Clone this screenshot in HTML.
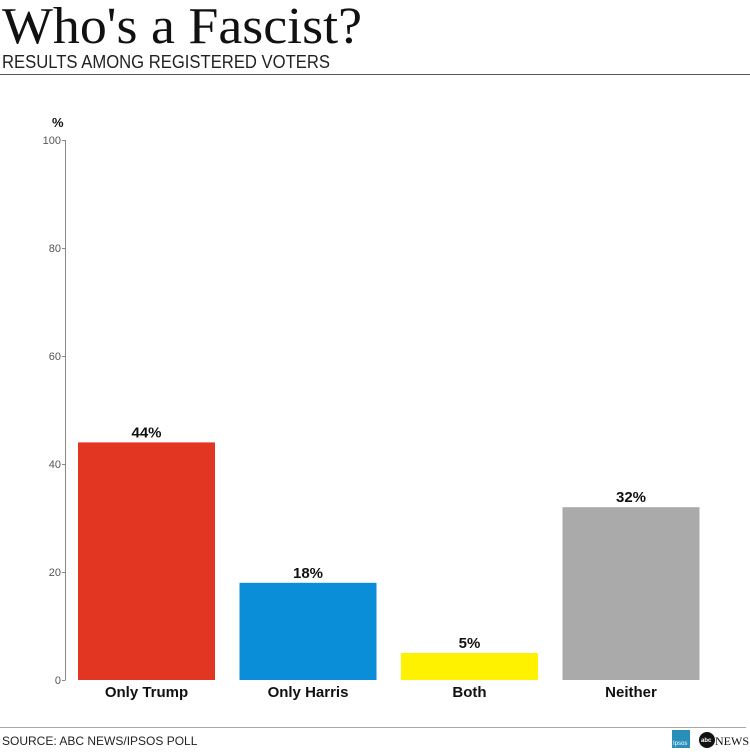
<!DOCTYPE html>
<html><head><meta charset="utf-8"><style>
body{margin:0;background:#fff;width:750px;height:750px;overflow:hidden}
text{font-family:"Liberation Sans",sans-serif}
</style></head><body>
<svg width="750" height="750" viewBox="0 0 750 750">
<text x="2" y="43" font-family="Liberation Serif" style="font-family:'Liberation Serif',serif" font-size="52" textLength="360" lengthAdjust="spacingAndGlyphs" fill="#111">Who's a Fascist?</text>
<text x="2" y="68" font-size="18" textLength="328" lengthAdjust="spacingAndGlyphs" fill="#222">RESULTS AMONG REGISTERED VOTERS</text>
<line x1="0" y1="74.5" x2="750" y2="74.5" stroke="#555" stroke-width="1"/>
<text x="52" y="127" font-size="13" font-weight="bold" fill="#111">%</text>
<g id="axis"></g>
<g id="bars"></g>
<line x1="0" y1="727.5" x2="746" y2="727.5" stroke="#aaa" stroke-width="1"/>
<text x="2" y="745" font-size="12" fill="#222">SOURCE: ABC NEWS/IPSOS POLL</text>
<g><rect x="672" y="730" width="18" height="18" fill="#2a8fb8"/><text x="673" y="745" font-size="6" fill="#fff">Ipsos</text></g>
<g><circle cx="707" cy="740" r="8" fill="#111"/><text x="701" y="742" font-size="6" font-weight="bold" fill="#fff">abc</text><text x="715" y="745" font-size="12" style="font-family:'Liberation Serif',serif" fill="#111">NEWS</text></g>
</svg>
<script>
const categories=["Only Trump","Only Harris","Both","Neither"];
const values=[44,18,5,32];
const colors=["#e23522","#0b8ed8","#fff200","#aaaaaa"];
const ticks=[0,20,40,60,80,100];
const NS="http://www.w3.org/2000/svg";
const y=v=>680-v*5.4;
const bx=i=>78+i*161.5;
const bw=137;
function mk(t,a,p){const e=document.createElementNS(NS,t);for(const k in a)e.setAttribute(k,a[k]);p.appendChild(e);return e;}
const ax=document.getElementById('axis'),bars=document.getElementById('bars');
const al=mk('line',{x1:65.5,x2:65.5,y1:y(100),y2:y(0),stroke:'#888','stroke-width':1},ax);


ticks.forEach(t=>{
 const tl=mk('line',{x1:62,x2:65.5,y1:y(t)+0.5,y2:y(t)+0.5,stroke:'#888'},ax);
 
 
 const tx=mk('text',{x:61,y:y(t)+4,'font-size':11,'text-anchor':'end',fill:'#555'},ax);
 tx.textContent=t;
 
 
});
categories.forEach((c,i)=>{
 const r=mk('rect',{x:bx(i),y:y(values[i]),width:bw,height:y(0)-y(values[i]),fill:colors[i]},bars);
 
 
 const v=mk('text',{x:bx(i)+bw/2,y:y(values[i])-5,'font-size':15,'font-weight':'bold','text-anchor':'middle',fill:'#111'},bars);
 v.textContent=values[i]+'%';
 
 
 const l=mk('text',{x:bx(i)+bw/2,y:697,'font-size':15,'font-weight':'bold','text-anchor':'middle',fill:'#111'},bars);
 l.textContent=c;
 
 
});
</script>
</body></html>
